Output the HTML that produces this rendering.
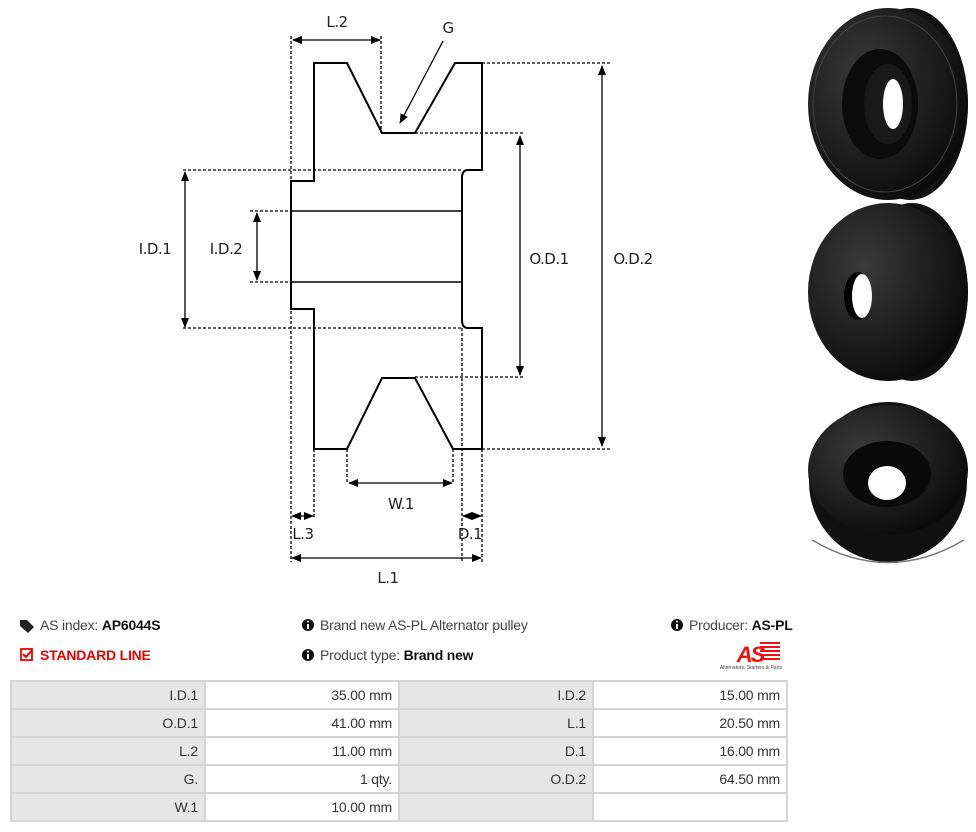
<!DOCTYPE html>
<html><head><meta charset="utf-8"><style>
body{margin:0;width:976px;height:832px;background:#fff;position:relative;overflow:hidden;font-family:"Liberation Sans",sans-serif;}
svg{position:absolute;left:0;top:0}
.info{position:absolute;font-size:14px;color:#444;letter-spacing:-0.2px;white-space:nowrap}
.info b{color:#111}
table{position:absolute;left:10px;top:680px;border-collapse:collapse;font-size:14px;color:#333;letter-spacing:-0.2px}
td{border:2px solid #d4d4d4;height:26px;padding:0 6px;text-align:right;box-sizing:border-box}
tr{height:28px}
td.l{background:#e6e6e6;width:194px}
td.v{background:#fff;width:194px}
</style></head><body>
<svg width="976" height="832" viewBox="0 0 976 832">
<defs>
<marker id="a" markerWidth="10" markerHeight="8" refX="9" refY="4" orient="auto" markerUnits="userSpaceOnUse"><path d="M0,0 L10,4 L0,8 z" fill="#000"/></marker>
<marker id="b" markerWidth="10" markerHeight="8" refX="1" refY="4" orient="auto" markerUnits="userSpaceOnUse"><path d="M10,0 L0,4 L10,8 z" fill="#000"/></marker>
<radialGradient id="g1" cx="0.35" cy="0.35" r="0.8"><stop offset="0" stop-color="#3a3a3a"/><stop offset="1" stop-color="#050505"/></radialGradient>
</defs>
<g fill="none" stroke="#000" stroke-width="2">
<path d="M291,181 H314 V63 H347 L382,133 H415 L455,63 H482 V170 H468 Q462,170 462,178 V320 Q462,328 468,328 H482 V449 H453 L415,378 H382 L347,449 H314 V309 H291 Z"/>
<line x1="291" y1="211" x2="462" y2="211" stroke-width="1.5"/>
<line x1="291" y1="282" x2="462" y2="282" stroke-width="1.5"/>
</g>
<g stroke="#000" stroke-width="1.3" stroke-dasharray="3,2" fill="none">
<line x1="291" y1="36" x2="291" y2="562"/>
<line x1="381" y1="36" x2="381" y2="133"/>
<line x1="314" y1="449" x2="314" y2="518"/>
<line x1="462" y1="328" x2="462" y2="562"/>
<line x1="482" y1="449" x2="482" y2="562"/>
<line x1="347" y1="449" x2="347" y2="484"/>
<line x1="453" y1="449" x2="453" y2="484"/>
<line x1="183" y1="170" x2="462" y2="170"/>
<line x1="183" y1="328" x2="462" y2="328"/>
<line x1="250" y1="211" x2="291" y2="211"/>
<line x1="250" y1="282" x2="291" y2="282"/>
<line x1="415" y1="133" x2="523" y2="133"/>
<line x1="415" y1="377" x2="525" y2="377"/>
<line x1="482" y1="63" x2="610" y2="63"/>
<line x1="482" y1="449" x2="610" y2="449"/>
</g>
<g stroke="#000" stroke-width="1.3" fill="none" marker-end="url(#a)">
<line x1="293" y1="40" x2="380" y2="40" marker-start="url(#b)"/>
<line x1="185" y1="172" x2="185" y2="327" marker-start="url(#b)"/>
<line x1="257" y1="213" x2="257" y2="280" marker-start="url(#b)"/>
<line x1="520" y1="136" x2="520" y2="375" marker-start="url(#b)"/>
<line x1="602" y1="66" x2="602" y2="446" marker-start="url(#b)"/>
<line x1="349" y1="483" x2="452" y2="483" marker-start="url(#b)"/>
<line x1="292" y1="516" x2="313" y2="516" marker-start="url(#b)"/>
<line x1="463" y1="516" x2="481" y2="516" marker-start="url(#b)"/>
<line x1="292" y1="558" x2="481" y2="558" marker-start="url(#b)"/>
<line x1="443" y1="41" x2="400" y2="123"/>
</g>
<g font-family="DejaVu Sans, sans-serif" font-size="15" fill="#222" text-anchor="middle" letter-spacing="-0.5">
<text x="337" y="27">L.2</text>
<text x="448" y="33">G</text>
<text x="155" y="254">I.D.1</text>
<text x="226" y="254">I.D.2</text>
<text x="549" y="264">O.D.1</text>
<text x="633" y="264">O.D.2</text>
<text x="401" y="509">W.1</text>
<text x="303" y="539">L.3</text>
<text x="470" y="539">D.1</text>
<text x="388" y="583">L.1</text>
</g>
<g>
<ellipse cx="910" cy="104" rx="58" ry="96" fill="#111"/>
<ellipse cx="888" cy="104" rx="80" ry="96" fill="url(#g1)"/>
<ellipse cx="885" cy="104" rx="72" ry="88" fill="none" stroke="#444" stroke-width="1"/>
<ellipse cx="880" cy="104" rx="38" ry="55" fill="#0c0c0c"/>
<ellipse cx="888" cy="104" rx="24" ry="40" fill="#1a1a1a"/>
<ellipse cx="893" cy="104" rx="10" ry="25" fill="#fff"/>
<ellipse cx="912" cy="292" rx="56" ry="89" fill="#111"/>
<ellipse cx="888" cy="292" rx="80" ry="89" fill="url(#g1)"/>
<ellipse cx="858" cy="296" rx="14" ry="24" fill="#000"/>
<ellipse cx="862" cy="296" rx="10" ry="22" fill="#fff"/>
<ellipse cx="888" cy="482" rx="79" ry="80" fill="#111"/>
<ellipse cx="888" cy="470" rx="80" ry="65" fill="url(#g1)"/>
<path d="M812,540 Q888,585 964,540" stroke="#777" stroke-width="1.5" fill="none"/>
<ellipse cx="887" cy="474" rx="44" ry="33" fill="#0a0a0a"/>
<ellipse cx="887" cy="483" rx="19" ry="17" fill="#fff"/>
</g>
<path d="M20,620 h7 l7,7 -6,6 -8,-7z" fill="#222"/>
<rect x="21" y="649" width="11" height="11" fill="none" stroke="#e00" stroke-width="1.8"/>
<path d="M23,654 l3,3 6,-7" stroke="#e00" stroke-width="2" fill="none"/>
<circle cx="308" cy="625" r="6" fill="#111"/><rect x="307" y="624" width="2" height="5" fill="#fff"/><circle cx="308" cy="621.5" r="1" fill="#fff"/>
<circle cx="308" cy="655" r="6" fill="#111"/><rect x="307" y="654" width="2" height="5" fill="#fff"/><circle cx="308" cy="651.5" r="1" fill="#fff"/>
<circle cx="677" cy="625" r="6" fill="#111"/><rect x="676" y="624" width="2" height="5" fill="#fff"/><circle cx="677" cy="621.5" r="1" fill="#fff"/>
<text x="750" y="662" font-family="Liberation Sans" font-weight="bold" font-style="italic" font-size="22" fill="#e11" text-anchor="middle" letter-spacing="-2">AS</text>
<g fill="#e11"><rect x="760" y="642" width="20" height="2"/><rect x="760" y="646" width="20" height="2"/><rect x="760" y="650" width="20" height="2"/><rect x="760" y="654" width="20" height="2"/><rect x="760" y="658" width="20" height="2"/></g>
<text x="751" y="669" font-family="Liberation Sans" font-size="5" fill="#444" text-anchor="middle">Alternators, Starters &amp; Parts</text>
</svg>
<div class="info" style="left:40px;top:617px">AS index: <b>AP6044S</b></div>
<div class="info" style="left:40px;top:647px;color:#e00;font-weight:bold">STANDARD LINE</div>
<div class="info" style="left:320px;top:617px">Brand new AS-PL Alternator pulley</div>
<div class="info" style="left:320px;top:647px">Product type: <b>Brand new</b></div>
<div class="info" style="left:689px;top:617px">Producer: <b>AS-PL</b></div>
<table>
<tr><td class="l">I.D.1</td><td class="v">35.00 mm</td><td class="l">I.D.2</td><td class="v">15.00 mm</td></tr>
<tr><td class="l">O.D.1</td><td class="v">41.00 mm</td><td class="l">L.1</td><td class="v">20.50 mm</td></tr>
<tr><td class="l">L.2</td><td class="v">11.00 mm</td><td class="l">D.1</td><td class="v">16.00 mm</td></tr>
<tr><td class="l">G.</td><td class="v">1 qty.</td><td class="l">O.D.2</td><td class="v">64.50 mm</td></tr>
<tr><td class="l">W.1</td><td class="v">10.00 mm</td><td class="l"></td><td class="v"></td></tr>
</table>
</body></html>
